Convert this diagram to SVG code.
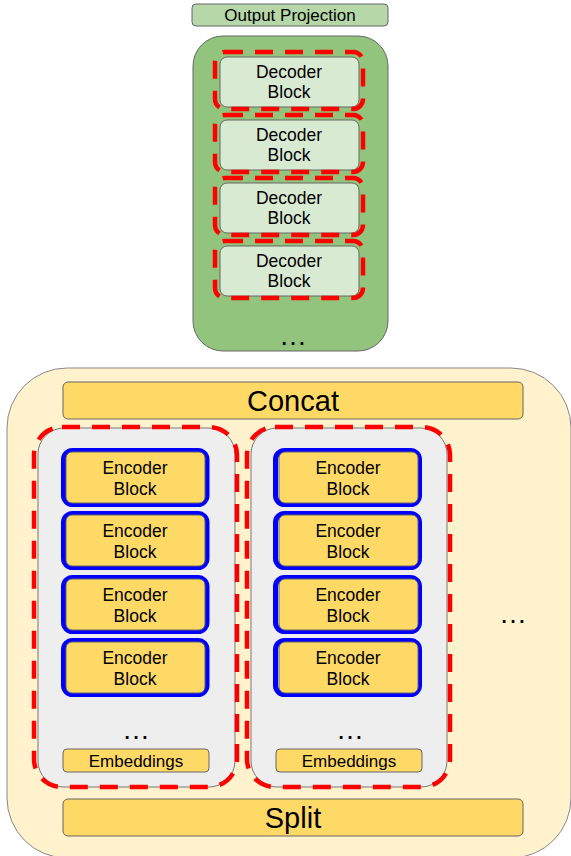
<svg xmlns="http://www.w3.org/2000/svg" width="571" height="856" viewBox="0 0 571 856">
<style>
text{font-family:"Liberation Sans",Arial,sans-serif;fill:#000;text-anchor:middle}
.blk{font-size:17.5px}
.red{fill:none;stroke:#ff0000;stroke-width:4.5;stroke-dasharray:18 12}
.blue{fill:none;stroke:#0000ff;stroke-width:5}
.ybox{fill:#ffd966;stroke:#666;stroke-width:1}
.dbox{fill:#d9ead3;stroke:#666;stroke-width:1}
.gray{fill:#eeeeee;stroke:#777;stroke-width:1}
.dots{font-size:28px}
</style>
<g id="output-projection">
<rect x="192" y="4" width="196" height="22" rx="4" fill="#b6d7a8" stroke="#666"/>
<text x="290" y="21" font-size="17">Output Projection</text>
</g>
<g id="decoder-stack">
<rect x="193" y="36" width="195" height="315" rx="30" fill="#93c47d" stroke="#666"/>
<text class="dots" x="293" y="345">…</text>
</g>
<g id="decoder-1">
<rect class="dbox" x="220" y="57" width="139" height="50" rx="7"/>
<rect class="red" x="215" y="52" width="148" height="57" rx="10"/>
<text class="blk" x="289" y="77.5">Decoder</text><text class="blk" x="289" y="98">Block</text>
</g>
<g id="decoder-2">
<rect class="dbox" x="220" y="120" width="139" height="50" rx="7"/>
<rect class="red" x="215" y="115" width="148" height="57" rx="10"/>
<text class="blk" x="289" y="140.5">Decoder</text><text class="blk" x="289" y="161">Block</text>
</g>
<g id="decoder-3">
<rect class="dbox" x="220" y="183" width="139" height="50" rx="7"/>
<rect class="red" x="215" y="178" width="148" height="57" rx="10"/>
<text class="blk" x="289" y="203.5">Decoder</text><text class="blk" x="289" y="224">Block</text>
</g>
<g id="decoder-4">
<rect class="dbox" x="220" y="246" width="139" height="50" rx="7"/>
<rect class="red" x="215" y="241" width="148" height="57" rx="10"/>
<text class="blk" x="289" y="266.5">Decoder</text><text class="blk" x="289" y="287">Block</text>
</g>
<g id="encoder-container">
<rect x="7" y="368" width="564" height="490" rx="60" fill="#fff2cc" stroke="#888"/>
<text class="dots" x="513" y="623">…</text>
</g>
<g id="concat">
<rect class="ybox" x="63" y="382" width="460" height="37" rx="5"/>
<text x="293" y="411" font-size="29">Concat</text>
</g>
<g id="split">
<rect class="ybox" x="63" y="799" width="460" height="37" rx="5"/>
<text x="293" y="828" font-size="29">Split</text>
</g>
<g id="column-1">
<rect class="gray" x="38" y="428" width="197" height="359" rx="26"/>
<rect class="red" x="34" y="427" width="203" height="360" rx="28"/>
<text class="dots" x="136" y="739">…</text>
</g>
<g id="embeddings-1">
<rect class="ybox" x="63" y="749" width="146" height="23" rx="4"/>
<text x="136" y="767" font-size="17">Embeddings</text>
</g>
<g id="column-2">
<rect class="gray" x="251" y="428" width="196" height="359" rx="26"/>
<rect class="red" x="247" y="427" width="203" height="360" rx="28"/>
<text class="dots" x="350" y="739">…</text>
</g>
<g id="embeddings-2">
<rect class="ybox" x="276" y="749" width="146" height="23" rx="4"/>
<text x="349" y="767" font-size="17">Embeddings</text>
</g>
<g id="enc-1-1"><rect class="blue" x="63.5" y="450.5" width="143.5" height="54" rx="9"/><rect class="ybox" x="66" y="452" width="139" height="51" rx="6"/><text class="blk" x="135" y="474">Encoder</text><text class="blk" x="135" y="495">Block</text></g>
<g id="enc-1-2"><rect class="blue" x="63.5" y="513.5" width="143.5" height="54" rx="9"/><rect class="ybox" x="66" y="515" width="139" height="51" rx="6"/><text class="blk" x="135" y="537">Encoder</text><text class="blk" x="135" y="558">Block</text></g>
<g id="enc-1-3"><rect class="blue" x="63.5" y="577.5" width="143.5" height="54" rx="9"/><rect class="ybox" x="66" y="579" width="139" height="51" rx="6"/><text class="blk" x="135" y="601">Encoder</text><text class="blk" x="135" y="622">Block</text></g>
<g id="enc-1-4"><rect class="blue" x="63.5" y="640.5" width="143.5" height="54" rx="9"/><rect class="ybox" x="66" y="642" width="139" height="51" rx="6"/><text class="blk" x="135" y="664">Encoder</text><text class="blk" x="135" y="685">Block</text></g>
<g id="enc-2-1"><rect class="blue" x="275.5" y="450.5" width="144" height="54" rx="9"/><rect class="ybox" x="279" y="452" width="139" height="51" rx="6"/><text class="blk" x="348" y="474">Encoder</text><text class="blk" x="348" y="495">Block</text></g>
<g id="enc-2-2"><rect class="blue" x="275.5" y="513.5" width="144" height="54" rx="9"/><rect class="ybox" x="279" y="515" width="139" height="51" rx="6"/><text class="blk" x="348" y="537">Encoder</text><text class="blk" x="348" y="558">Block</text></g>
<g id="enc-2-3"><rect class="blue" x="275.5" y="577.5" width="144" height="54" rx="9"/><rect class="ybox" x="279" y="579" width="139" height="51" rx="6"/><text class="blk" x="348" y="601">Encoder</text><text class="blk" x="348" y="622">Block</text></g>
<g id="enc-2-4"><rect class="blue" x="275.5" y="640.5" width="144" height="54" rx="9"/><rect class="ybox" x="279" y="642" width="139" height="51" rx="6"/><text class="blk" x="348" y="664">Encoder</text><text class="blk" x="348" y="685">Block</text></g>
<g id="connectors"></g>
</svg>
